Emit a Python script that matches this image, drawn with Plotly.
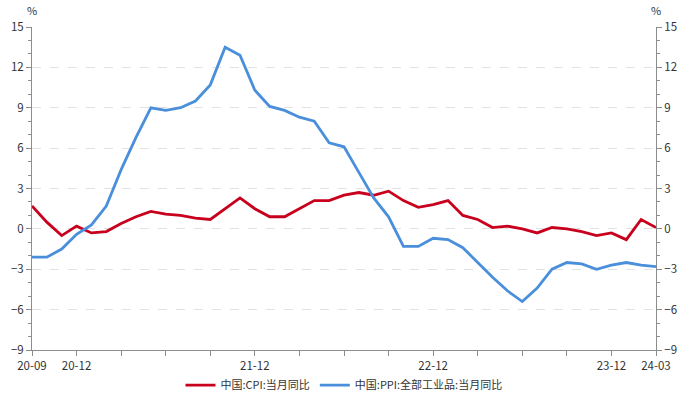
import plotly.graph_objects as go

months = ["2020-09","2020-10","2020-11","2020-12","2021-01","2021-02","2021-03","2021-04","2021-05","2021-06",
          "2021-07","2021-08","2021-09","2021-10","2021-11","2021-12","2022-01","2022-02","2022-03","2022-04",
          "2022-05","2022-06","2022-07","2022-08","2022-09","2022-10","2022-11","2022-12","2023-01","2023-02",
          "2023-03","2023-04","2023-05","2023-06","2023-07","2023-08","2023-09","2023-10","2023-11","2023-12",
          "2024-01","2024-02","2024-03"]
cpi = [1.7,0.5,-0.5,0.2,-0.3,-0.2,0.4,0.9,1.3,1.1,1.0,0.8,0.7,1.5,2.3,1.5,0.9,0.9,1.5,2.1,2.1,2.5,2.7,2.5,2.8,
       2.1,1.6,1.8,2.1,1.0,0.7,0.1,0.2,0.0,-0.3,0.1,0.0,-0.2,-0.5,-0.3,-0.8,0.7,0.1]
ppi = [-2.1,-2.1,-1.5,-0.4,0.3,1.7,4.4,6.8,9.0,8.8,9.0,9.5,10.7,13.5,12.9,10.3,9.1,8.8,8.3,8.0,6.4,6.1,4.2,2.3,0.9,
       -1.3,-1.3,-0.7,-0.8,-1.4,-2.5,-3.6,-4.6,-5.4,-4.4,-3.0,-2.5,-2.6,-3.0,-2.7,-2.5,-2.7,-2.8]
tick_months = months[::3]
labeled = {"2020-09":"20-09","2020-12":"20-12","2021-12":"21-12","2022-12":"22-12","2023-12":"23-12","2024-03":"24-03"}
tick_text = [labeled.get(m, "") for m in tick_months]
y_ticks = [-9,-6,-3,0,3,6,9,12,15]
name_cpi = "中国:CPI:当月同比"
name_ppi = "中国:PPI:全部工业品:当月同比"

FONT = "Noto Sans CJK SC"
RED = "#C8001E"
BLUE = "#4A8FDB"
AX = "#8c8c8c"
TXT = "#333333"

idx = list(range(len(months)))
tick_idx = [months.index(m) for m in tick_months]

fig = go.Figure()
fig.add_trace(go.Scatter(x=idx, y=cpi, name=name_cpi, mode="lines",
                         line=dict(color=RED, width=2.8)))
fig.add_trace(go.Scatter(x=idx, y=ppi, name=name_ppi, mode="lines",
                         line=dict(color=BLUE, width=2.8)))
fig.add_trace(go.Scatter(x=idx, y=ppi, yaxis="y2", mode="lines", showlegend=False,
                         line=dict(color="rgba(0,0,0,0)", width=0), hoverinfo="skip"))

yax_common = dict(range=[-9, 15], tickvals=y_ticks, ticks="outside", ticklen=5, tickcolor=AX,
                  showline=True, linecolor=AX, linewidth=1, zeroline=False, automargin=False,
                  tickfont=dict(family=FONT, size=11.5, color=TXT),
                  minor=dict(dtick=1, tick0=0, ticks="outside", ticklen=3, tickcolor=AX, showgrid=False))

fig.update_layout(
    width=688, height=397,
    margin=dict(l=31.5, r=32, t=27, b=47),
    paper_bgcolor="white", plot_bgcolor="white",
    font=dict(family=FONT, size=11, color=TXT),
    xaxis=dict(range=[0, len(months) - 1], tickvals=tick_idx, ticktext=tick_text,
               ticks="outside", ticklen=5, tickcolor=AX, showline=True, linecolor=AX,
               showgrid=False, zeroline=False, automargin=False,
               tickfont=dict(family=FONT, size=11.5, color=TXT)),
    yaxis=dict(**yax_common, showgrid=True, gridcolor="#e2e2e2", griddash="dash", gridwidth=1),
    yaxis2=dict(**yax_common, overlaying="y", side="right", showgrid=False),
    legend=dict(orientation="h", x=0.5, xanchor="center", xref="container",
                y=0.03, yanchor="middle", yref="container",
                font=dict(family=FONT, size=11, color=TXT), itemwidth=30,
                tracegroupgap=0),
    showlegend=True,
    annotations=[
        dict(text="%", xref="paper", yref="paper", x=0, y=1, xanchor="center", yanchor="bottom",
             yshift=7, showarrow=False, font=dict(family=FONT, size=11, color=TXT)),
        dict(text="%", xref="paper", yref="paper", x=1, y=1, xanchor="center", yanchor="bottom",
             yshift=7, showarrow=False, font=dict(family=FONT, size=11, color=TXT)),
    ],
)

fig.write_html("out.html", config={"displayModeBar": False},
               post_script="document.body.style.margin='0';document.body.style.overflow='hidden';")
